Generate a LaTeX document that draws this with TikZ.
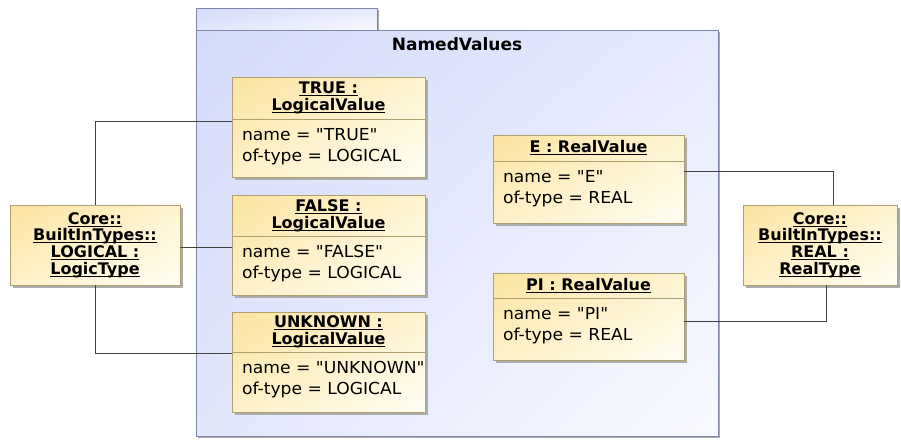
\documentclass[tikz,border=0pt]{standalone}
\usepackage{fontspec}
\setmainfont{DejaVu Sans}
\newfontfamily\attrfont[FakeStretch=1.04]{DejaVu Sans}
\usetikzlibrary{shadows,shadings}

\definecolor{pkgline}{RGB}{126,134,170}
\definecolor{pkgA}{RGB}{212,219,248}
\definecolor{pkgB}{RGB}{230,234,252}
\definecolor{pkgC}{RGB}{226,230,251}
\definecolor{pkgD}{RGB}{249,250,255}
\definecolor{boxline}{RGB}{176,160,112}
\definecolor{boxA}{RGB}{252,228,160}
\definecolor{boxB}{RGB}{254,244,210}
\definecolor{boxC}{RGB}{254,241,200}
\definecolor{boxD}{RGB}{255,254,244}
\definecolor{shadowgray}{RGB}{172,172,172}
\definecolor{wire}{RGB}{64,64,64}

% underlined header text, straight quote
\newcommand{\uln}[1]{\setbox0=\hbox{#1}\rlap{\rule[-2.6pt]{\wd0}{1.1pt}}\box0}
\newcommand{\dq}{\symbol{34}}

\begin{document}
\begin{tikzpicture}[x=1pt,y=-1pt]
  \tikzstyle{every node}=[inner sep=0pt, outer sep=0pt];
  \tikzstyle{pkg}=[draw=pkgline, line width=1pt, upper left=pkgA, upper right=pkgB, lower left=pkgC, lower right=pkgD,
    drop shadow={shadow xshift=2pt, shadow yshift=-2pt, fill=shadowgray, opacity=1}];
  \tikzstyle{objbox}=[draw=boxline, line width=1pt, rectangle, upper left=boxA, upper right=boxB, lower left=boxC, lower right=boxD,
    drop shadow={shadow xshift=3pt, shadow yshift=-3pt, fill=shadowgray, opacity=1}];
  \tikzstyle{hdr}=[align=center, font=\fontsize{16}{17}\selectfont\bfseries];
  \tikzstyle{attr}=[align=left, anchor=north west, font=\attrfont\fontsize{16.5}{21}\selectfont];
  \tikzstyle{sepline}=[draw=boxline, line width=1pt];
  \tikzstyle{link}=[draw=wire, line width=1pt];

  \useasboundingbox (0,0) rectangle (901,439);

  % package NamedValues
  \path[pkg] (196,8) rectangle (377,30);
  \path[pkg] (196,30) rectangle (718,436);
  \node[font=\fontsize{17}{20}\selectfont\bfseries] (pkgname) at (457,44) {NamedValues};

  % logical values
  \node[objbox, minimum width=193pt, minimum height=100pt] (true) at (328.5,127) {};
  \path[sepline] (232,119) -- (425,119);
  \node[hdr] (truehd) at (328.5,98) {\uln{TRUE :}\\\uln{LogicalValue}};
  \node[attr] (trueat) at (242,128) {name = \dq TRUE\dq\\of-type = LOGICAL};

  \node[objbox, minimum width=193pt, minimum height=100pt] (false) at (328.5,245) {};
  \path[sepline] (232,236) -- (425,236);
  \node[hdr] (falsehd) at (328.5,215.5) {\uln{FALSE :}\\\uln{LogicalValue}};
  \node[attr] (falseat) at (242,245) {name = \dq FALSE\dq\\of-type = LOGICAL};

  \node[objbox, minimum width=193pt, minimum height=100pt] (unknown) at (328.5,362) {};
  \path[sepline] (232,352) -- (425,352);
  \node[hdr] (unknownhd) at (328.5,332) {\uln{UNKNOWN :}\\\uln{LogicalValue}};
  \node[attr] (unknownat) at (242,361) {name = \dq UNKNOWN\dq\\of-type = LOGICAL};

  % real values
  \node[objbox, minimum width=191pt, minimum height=88pt] (e) at (588.5,179) {};
  \path[sepline] (493,161) -- (684,161);
  \node[hdr] (ehd) at (588.5,148) {\uln{E : RealValue}};
  \node[attr] (eat) at (503,170) {name = \dq E\dq\\of-type = REAL};

  \node[objbox, minimum width=191pt, minimum height=87pt] (pi) at (588.5,316.5) {};
  \path[sepline] (493,298) -- (684,298);
  \node[hdr] (pihd) at (588.5,285.5) {\uln{PI : RealValue}};
  \node[attr] (piat) at (503,307) {name = \dq PI\dq\\of-type = REAL};

  % types
  \node[objbox, hdr, font=\fontsize{16}{16.7}\selectfont\bfseries, minimum width=170pt, minimum height=80pt] (logical) at (95,245)
    {\uln{Core::}\\\uln{BuiltInTypes::}\\\uln{LOGICAL :}\\\uln{LogicType}};
  \node[objbox, hdr, font=\fontsize{16}{16.7}\selectfont\bfseries, minimum width=154pt, minimum height=80pt] (real) at (820,245)
    {\uln{Core::}\\\uln{BuiltInTypes::}\\\uln{REAL :}\\\uln{RealType}};

  % links
  \path[link] (logical.north) |- ([yshift=6pt]true.west);
  \path[link] ([yshift=-2pt]logical.east) -- ([yshift=-2pt]false.west);
  \path[link] (logical.south) |- ([yshift=9pt]unknown.west);
  \path[link] ([yshift=8pt]e.east) -| ([xshift=13pt]real.north);
  \path[link] ([yshift=-4.5pt]pi.east) -| ([xshift=6pt]real.south);
\end{tikzpicture}
\end{document}
